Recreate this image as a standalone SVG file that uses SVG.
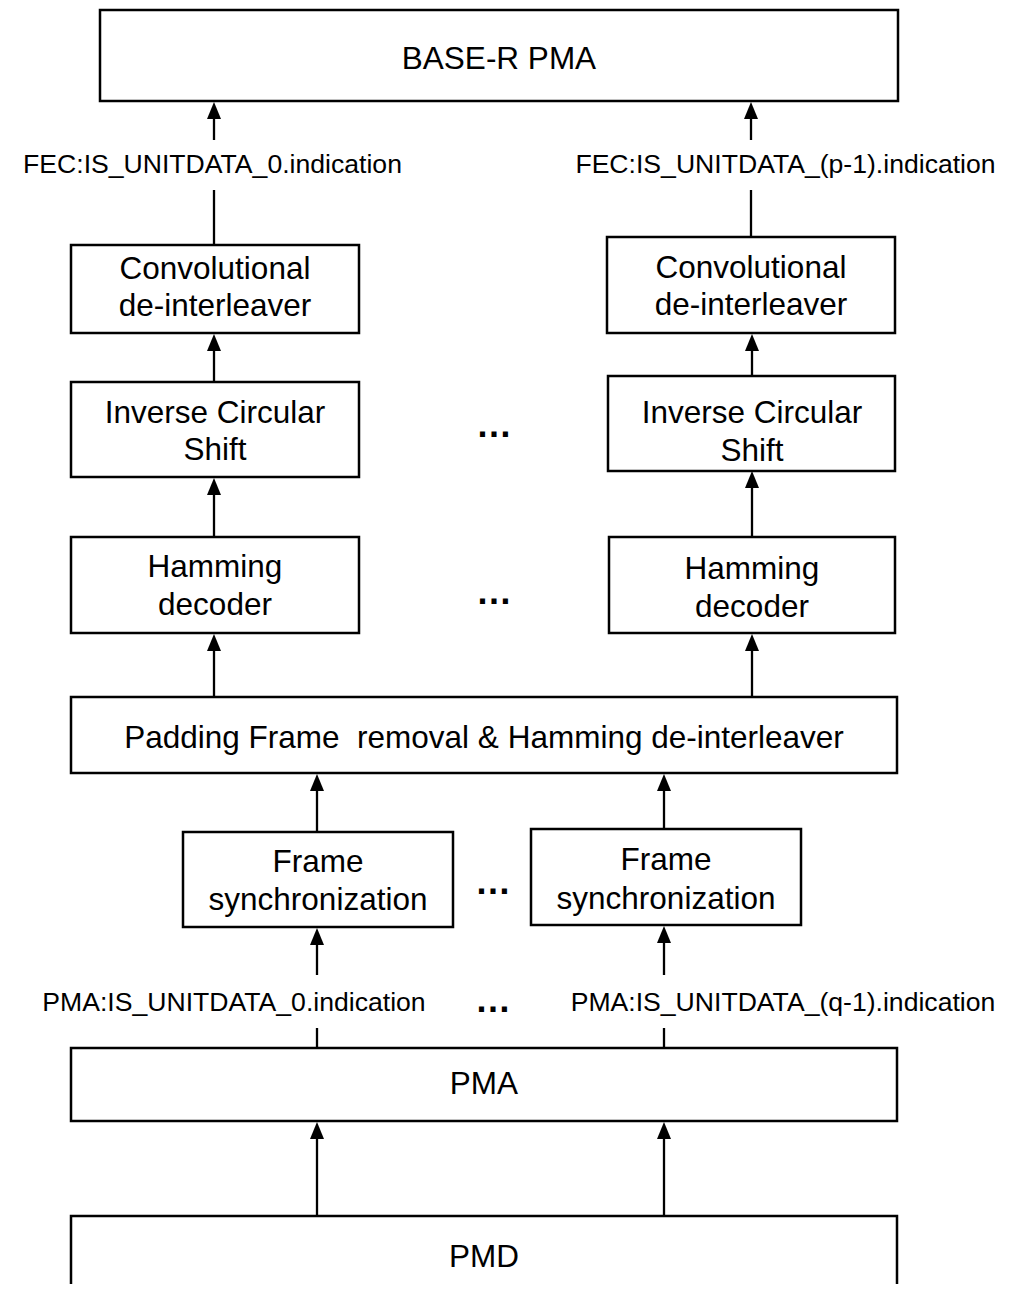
<svg xmlns="http://www.w3.org/2000/svg" width="1025" height="1289" viewBox="0 0 1025 1289">
  <style>
    .box { fill: #ffffff; stroke: #000000; stroke-width: 2.5; }
    .wire { fill: none; stroke: #000000; stroke-width: 2.3; }
    .t { font-family: "Liberation Sans", Arial, sans-serif; font-size: 31.5px; fill: #000000; text-anchor: middle; white-space: pre; }
    .lbl { font-family: "Liberation Sans", Arial, sans-serif; font-size: 26.6px; fill: #000000; text-anchor: middle; }
    .dots { font-family: "Liberation Sans", Arial, sans-serif; font-size: 36px; font-weight: bold; fill: #000000; text-anchor: middle; }
  </style>
  <defs>
    <marker id="arrow" markerUnits="userSpaceOnUse" markerWidth="17" markerHeight="15" refX="7" refY="7" orient="auto">
      <path d="M0,0 L17,7 L0,14 z" fill="#000000"/>
    </marker>
  </defs>
  <rect width="1025" height="1289" fill="#ffffff"/>

  <!-- connectors -->
  <g id="connectors">
    <line class="wire" x1="214" y1="140" x2="214" y2="112" marker-end="url(#arrow)"/>
    <line class="wire" x1="751" y1="140" x2="751" y2="112" marker-end="url(#arrow)"/>
    <line class="wire" x1="214" y1="190" x2="214" y2="245"/>
    <line class="wire" x1="751" y1="190" x2="751" y2="237"/>

    <line class="wire" x1="214" y1="382" x2="214" y2="344" marker-end="url(#arrow)"/>
    <line class="wire" x1="752" y1="376" x2="752" y2="344" marker-end="url(#arrow)"/>

    <line class="wire" x1="214" y1="537" x2="214" y2="488" marker-end="url(#arrow)"/>
    <line class="wire" x1="752" y1="537" x2="752" y2="481" marker-end="url(#arrow)"/>

    <line class="wire" x1="214" y1="697" x2="214" y2="644" marker-end="url(#arrow)"/>
    <line class="wire" x1="752" y1="697" x2="752" y2="644" marker-end="url(#arrow)"/>

    <line class="wire" x1="317" y1="832" x2="317" y2="784" marker-end="url(#arrow)"/>
    <line class="wire" x1="664" y1="829" x2="664" y2="784" marker-end="url(#arrow)"/>

    <line class="wire" x1="317" y1="975" x2="317" y2="938" marker-end="url(#arrow)"/>
    <line class="wire" x1="664" y1="975" x2="664" y2="936" marker-end="url(#arrow)"/>

    <line class="wire" x1="317" y1="1028" x2="317" y2="1048"/>
    <line class="wire" x1="664" y1="1028" x2="664" y2="1048"/>

    <line class="wire" x1="317" y1="1216" x2="317" y2="1132" marker-end="url(#arrow)"/>
    <line class="wire" x1="664" y1="1222" x2="664" y2="1132" marker-end="url(#arrow)"/>
  </g>

  <!-- service interface labels -->
  <g id="labels">
    <text class="lbl" x="212.5" y="173">FEC:IS_UNITDATA_0.indication</text>
    <text class="lbl" x="785.5" y="173">FEC:IS_UNITDATA_(p-1).indication</text>
    <text class="lbl" x="234" y="1011">PMA:IS_UNITDATA_0.indication</text>
    <text class="lbl" x="783" y="1011">PMA:IS_UNITDATA_(q-1).indication</text>
  </g>

  <!-- lane continuation marks -->
  <g id="ellipses">
    <text class="dots" x="494" y="437">…</text>
    <text class="dots" x="494" y="604">…</text>
    <text class="dots" x="493" y="894">…</text>
    <text class="dots" x="493" y="1012">…</text>
  </g>

  <g id="base-r-pma">
    <rect class="box" x="100" y="10" width="798" height="91"/>
    <text class="t" x="499" y="69">BASE-R PMA</text>
  </g>

  <g id="conv-deint-0">
    <rect class="box" x="71" y="245" width="288" height="88"/>
    <text class="t" x="215" y="279">Convolutional</text>
    <text class="t" x="215" y="316">de-interleaver</text>
  </g>
  <g id="conv-deint-p1">
    <rect class="box" x="607" y="237" width="288" height="96"/>
    <text class="t" x="751" y="278">Convolutional</text>
    <text class="t" x="751" y="315">de-interleaver</text>
  </g>

  <g id="inv-shift-0">
    <rect class="box" x="71" y="382" width="288" height="95"/>
    <text class="t" x="215" y="423">Inverse Circular</text>
    <text class="t" x="215" y="460">Shift</text>
  </g>
  <g id="inv-shift-p1">
    <rect class="box" x="608" y="376" width="287" height="95"/>
    <text class="t" x="752" y="423">Inverse Circular</text>
    <text class="t" x="752" y="461">Shift</text>
  </g>

  <g id="hamming-0">
    <rect class="box" x="71" y="537" width="288" height="96"/>
    <text class="t" x="215" y="577">Hamming</text>
    <text class="t" x="215" y="615">decoder</text>
  </g>
  <g id="hamming-p1">
    <rect class="box" x="609" y="537" width="286" height="96"/>
    <text class="t" x="752" y="579">Hamming</text>
    <text class="t" x="752" y="617">decoder</text>
  </g>

  <g id="padding-removal">
    <rect class="box" x="71" y="697" width="826" height="76"/>
    <text class="t" x="484" y="748">Padding Frame  removal &amp; Hamming de-interleaver</text>
  </g>

  <g id="frame-sync-0">
    <rect class="box" x="183" y="832" width="270" height="95"/>
    <text class="t" x="318" y="872">Frame</text>
    <text class="t" x="318" y="910">synchronization</text>
  </g>
  <g id="frame-sync-q1">
    <rect class="box" x="531" y="829" width="270" height="96"/>
    <text class="t" x="666" y="870">Frame</text>
    <text class="t" x="666" y="909">synchronization</text>
  </g>

  <g id="pma">
    <rect class="box" x="71" y="1048" width="826" height="73"/>
    <text class="t" x="484" y="1094">PMA</text>
  </g>

  <g id="pmd">
    <path class="box" d="M71,1284 V1216 H897 V1284" fill="none"/>
    <text class="t" x="484" y="1267">PMD</text>
  </g>
</svg>
